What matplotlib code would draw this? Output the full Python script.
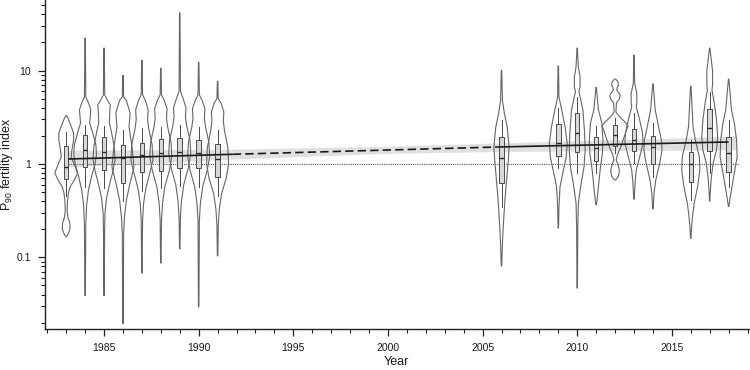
import numpy as np
import matplotlib
matplotlib.use("Agg")
import matplotlib.pyplot as plt
from matplotlib.ticker import LogLocator, NullFormatter, FixedLocator, MultipleLocator

plt.rcParams['font.family'] = ['Liberation Sans', 'DejaVu Sans']
plt.rcParams['mathtext.default'] = 'regular'

# ---------------- data ----------------
years = [1983, 1984, 1985, 1986, 1987, 1988, 1989, 1990, 1991,
         2006, 2009, 2010, 2011, 2012, 2013, 2014, 2016, 2017, 2018]

# violin outline knots: fertility-index values (top to bottom) and relative density
prof_vals = [
    [3.3, 3.1, 2.6, 2.15, 1.8, 1.4, 1.19, 1.0, 0.8, 0.67, 0.57, 0.49, 0.41, 0.32, 0.27, 0.23, 0.2, 0.18, 0.166],
    [22.3, 5.2, 4.5, 3.8, 3.2, 2.75, 2.2, 1.6, 1.25, 0.98, 0.76, 0.53, 0.36, 0.22, 0.039],
    [17.4, 5.5, 4.8, 4.3, 3.5, 2.75, 2.2, 1.52, 1.1, 0.8, 0.67, 0.44, 0.3, 0.2, 0.039],
    [8.9, 5.2, 4.8, 3.5, 2.5, 1.52, 0.93, 0.63, 0.41, 0.27, 0.18, 0.0195],
    [12.9, 5.5, 4.8, 3.8, 3.0, 2.4, 1.6, 1.1, 0.8, 0.55, 0.38, 0.25, 0.068],
    [10.6, 5.5, 4.8, 3.9, 3.1, 2.5, 1.7, 1.2, 0.85, 0.57, 0.38, 0.25, 0.087],
    [41.5, 6.0, 5.0, 4.0, 3.2, 2.6, 1.8, 1.3, 0.9, 0.6, 0.4, 0.27, 0.123],
    [12.3, 5.5, 4.8, 3.9, 3.1, 2.5, 1.7, 1.2, 0.85, 0.57, 0.38, 0.25, 0.0296],
    [7.7, 5.0, 4.5, 3.6, 2.9, 2.3, 1.5, 1.0, 0.7, 0.48, 0.33, 0.22, 0.104],
    [10.1, 4.8, 3.5, 2.5, 1.52, 1.1, 0.8, 0.41, 0.21, 0.13, 0.081],
    [11.2, 5.2, 3.8, 2.5, 1.68, 1.19, 0.86, 0.57, 0.35, 0.206],
    [17.4, 11.0, 8.5, 6.7, 6.0, 3.8, 2.15, 1.41, 0.93, 0.57, 0.38, 0.2, 0.047],
    [6.6, 3.8, 2.75, 1.8, 1.31, 0.86, 0.57, 0.41, 0.365],
    [8.1, 7.6, 7.0, 6.6, 6.2, 5.5, 5.0, 4.5, 3.6, 3.2, 2.8, 2.55, 2.3, 1.94, 1.52, 1.25, 1.1, 1.0, 0.85, 0.74, 0.674],
    [14.6, 7.3, 5.7, 4.5, 4.1, 2.96, 2.15, 1.68, 1.19, 0.86, 0.64, 0.42],
    [7.2, 3.8, 2.5, 1.8, 1.41, 1.02, 0.67, 0.49, 0.33],
    [6.8, 2.5, 1.8, 1.19, 0.86, 0.57, 0.38, 0.27, 0.2, 0.16],
    [17.4, 10.0, 7.0, 6.2, 4.5, 2.96, 1.94, 1.41, 1.02, 0.73, 0.5, 0.40],
    [8.1, 3.8, 2.75, 1.8, 1.19, 0.8, 0.53, 0.41, 0.35],
]
prof_dens = [
    [0.02, 0.15, 0.4, 0.65, 0.65, 0.5, 0.43, 0.7, 1.0, 0.7, 0.35, 0.2, 0.12, 0.08, 0.15, 0.33, 0.33, 0.2, 0.02],
    [0.02, 0.06, 0.3, 0.5, 0.45, 0.4, 0.65, 0.95, 1.0, 0.85, 0.6, 0.3, 0.13, 0.06, 0.02],
    [0.02, 0.06, 0.3, 0.55, 0.5, 0.47, 0.65, 0.9, 0.97, 0.75, 0.57, 0.23, 0.08, 0.05, 0.02],
    [0.02, 0.06, 0.3, 0.63, 0.53, 0.8, 0.97, 0.63, 0.3, 0.13, 0.06, 0.02],
    [0.02, 0.06, 0.3, 0.55, 0.5, 0.6, 0.9, 0.97, 0.7, 0.35, 0.15, 0.06, 0.02],
    [0.02, 0.06, 0.3, 0.55, 0.5, 0.6, 0.9, 0.97, 0.75, 0.35, 0.15, 0.06, 0.02],
    [0.02, 0.06, 0.3, 0.55, 0.5, 0.6, 0.9, 0.97, 0.75, 0.35, 0.15, 0.06, 0.02],
    [0.02, 0.06, 0.3, 0.55, 0.5, 0.6, 0.9, 0.97, 0.75, 0.35, 0.15, 0.06, 0.02],
    [0.02, 0.06, 0.3, 0.55, 0.5, 0.6, 0.9, 0.97, 0.75, 0.35, 0.15, 0.06, 0.02],
    [0.02, 0.08, 0.25, 0.5, 0.67, 0.6, 0.5, 0.3, 0.15, 0.07, 0.02],
    [0.02, 0.06, 0.3, 0.6, 0.78, 0.7, 0.45, 0.15, 0.06, 0.02],
    [0.02, 0.1, 0.25, 0.25, 0.15, 0.5, 0.65, 0.7, 0.6, 0.3, 0.1, 0.05, 0.02],
    [0.02, 0.2, 0.5, 0.6, 0.55, 0.35, 0.2, 0.08, 0.02],
    [0.05, 0.25, 0.3, 0.2, 0.15, 0.45, 0.4, 0.12, 0.08, 0.4, 0.9, 1.15, 1.0, 0.8, 0.5, 0.2, 0.1, 0.25, 0.38, 0.3, 0.05],
    [0.02, 0.06, 0.25, 0.25, 0.2, 0.5, 0.75, 0.8, 0.5, 0.2, 0.1, 0.02],
    [0.02, 0.2, 0.5, 0.75, 0.8, 0.6, 0.25, 0.1, 0.02],
    [0.02, 0.2, 0.4, 0.75, 0.8, 0.6, 0.3, 0.15, 0.06, 0.02],
    [0.02, 0.25, 0.25, 0.2, 0.4, 0.6, 0.7, 0.6, 0.3, 0.15, 0.05, 0.02],
    [0.02, 0.25, 0.5, 0.7, 0.75, 0.5, 0.25, 0.1, 0.02],
]

# box plot statistics
box_q1 = [0.69, 0.93, 0.86, 0.63, 0.82, 0.84, 0.90, 0.90, 0.72,
          0.63, 1.22, 1.34, 1.08, 1.56, 1.38, 1.00, 0.64, 1.38, 0.82]
box_med = [0.93, 1.41, 1.35, 1.16, 1.25, 1.31, 1.35, 1.30, 1.13,
           1.16, 1.68, 2.14, 1.48, 2.04, 1.80, 1.52, 1.00, 2.42, 1.31]
box_q3 = [1.55, 2.04, 1.95, 1.60, 1.68, 1.85, 1.90, 1.80, 1.63,
          1.95, 2.68, 3.50, 1.94, 2.60, 2.36, 1.99, 1.34, 3.87, 1.94]
box_whislo = [0.45, 0.57, 0.55, 0.40, 0.52, 0.55, 0.58, 0.56, 0.45,
              0.35, 0.90, 0.80, 0.80, 1.31, 1.02, 0.73, 0.41, 0.80, 0.57]
box_whishi = [2.2, 2.6, 2.55, 2.3, 2.4, 2.5, 2.6, 2.5, 2.3,
              2.95, 4.0, 5.2, 2.55, 3.1, 3.5, 2.74, 1.80, 5.9, 2.95]

# fitted trend and confidence band
trend_x = [1983.1, 1991.8, 2005.8, 2018.0]
trend_y = [1.13, 1.27, 1.52, 1.72]
band_x = [1983.1, 1991.8, 2000.0, 2005.8, 2018.4]
band_lo = [0.93, 1.13, 1.30, 1.36, 1.42]
band_hi = [1.40, 1.44, 1.55, 1.68, 1.98]
ref_level = 1.0

ytick_vals = [0.1, 1, 10]
ytick_labels = ['0.1', '1', '10']
xtick_vals = [1985, 1990, 1995, 2000, 2005, 2010, 2015]

# ---------------- figure ----------------
fig = plt.figure(figsize=(7.5, 3.7), dpi=100)
ax = fig.add_axes([45 / 750, 41 / 370, 703.5 / 750, 329 / 370])
ax.set_yscale('log')

# confidence band
ax.fill_between(band_x, band_lo, band_hi, color='#e0e0e0', lw=0, zorder=1)
# reference line at 1
ax.plot([1983.1, 2018.5], [ref_level, ref_level], ls=(0, (1, 1)), color='#555555', lw=0.8, zorder=2)

# violins
W = 0.6
vpstats = []
widths = []
for vals, dens, med in zip(prof_vals, prof_dens, box_med):
    v = np.array(vals)[::-1]
    d = np.array(dens)[::-1]
    vpstats.append({'coords': v, 'vals': d, 'mean': med, 'median': med,
                    'min': v.min(), 'max': v.max()})
    widths.append(2 * max(dens) * W)
parts = ax.violin(vpstats, positions=years, widths=widths,
                  showextrema=False, showmeans=False, showmedians=False)
for body in parts['bodies']:
    body.set_facecolor('none')
    body.set_edgecolor('#666666')
    body.set_linewidth(0.8)
    body.set_alpha(1)
    body.set_zorder(3)

# box plots
bstats = []
for q1, med, q3, lo, hi in zip(box_q1, box_med, box_q3, box_whislo, box_whishi):
    bstats.append({'q1': q1, 'med': med, 'q3': q3, 'whislo': lo, 'whishi': hi, 'fliers': []})
ax.bxp(bstats, positions=years, widths=0.24, patch_artist=True, showcaps=False,
       showfliers=False, manage_ticks=False,
       boxprops=dict(facecolor='#d8d8d8', edgecolor='#4a4a4a', linewidth=0.7),
       whiskerprops=dict(color='#4a4a4a', linewidth=0.7),
       medianprops=dict(color='#2a2a2a', linewidth=1.0), zorder=4)

# trend: solid - dashed - solid
ax.plot(trend_x[0:2], trend_y[0:2], color='#1a1a1a', lw=1.2, zorder=5, solid_capstyle='butt')
ax.plot(trend_x[1:3], trend_y[1:3], color='#1a1a1a', lw=1.2, ls=(0, (5, 2.5)), zorder=5)
ax.plot(trend_x[2:4], trend_y[2:4], color='#1a1a1a', lw=1.2, zorder=5, solid_capstyle='butt')

# axes styling
ax.set_xlim(1981.88, 2019.05)
ax.set_ylim(0.0171, 57.0)
ax.spines['top'].set_visible(False)
ax.spines['right'].set_visible(False)
for s in ('left', 'bottom'):
    ax.spines[s].set_linewidth(1.0)
    ax.spines[s].set_color('#222222')

ax.set_yticks(ytick_vals)
ax.set_yticklabels(ytick_labels)
ax.yaxis.set_minor_locator(LogLocator(base=10, subs=np.arange(2, 10)))
ax.yaxis.set_minor_formatter(NullFormatter())
ax.xaxis.set_major_locator(FixedLocator(xtick_vals))
ax.xaxis.set_minor_locator(MultipleLocator(1))

ax.tick_params(which='major', direction='out', length=5, width=0.9, color='#222222',
               labelsize=7.5, pad=5, labelcolor='#1a1a1a')
ax.tick_params(which='minor', direction='out', length=3, width=0.8, color='#222222')

ax.set_xlabel('Year', fontsize=9, color='#1a1a1a')
ax.xaxis.set_label_coords(0.5, -0.082)
ax.set_ylabel('P$_{90}$ fertility index', fontsize=9, color='#1a1a1a')
ax.yaxis.set_label_coords(-0.042, 0.5)

fig.savefig('out.png', dpi=100)
